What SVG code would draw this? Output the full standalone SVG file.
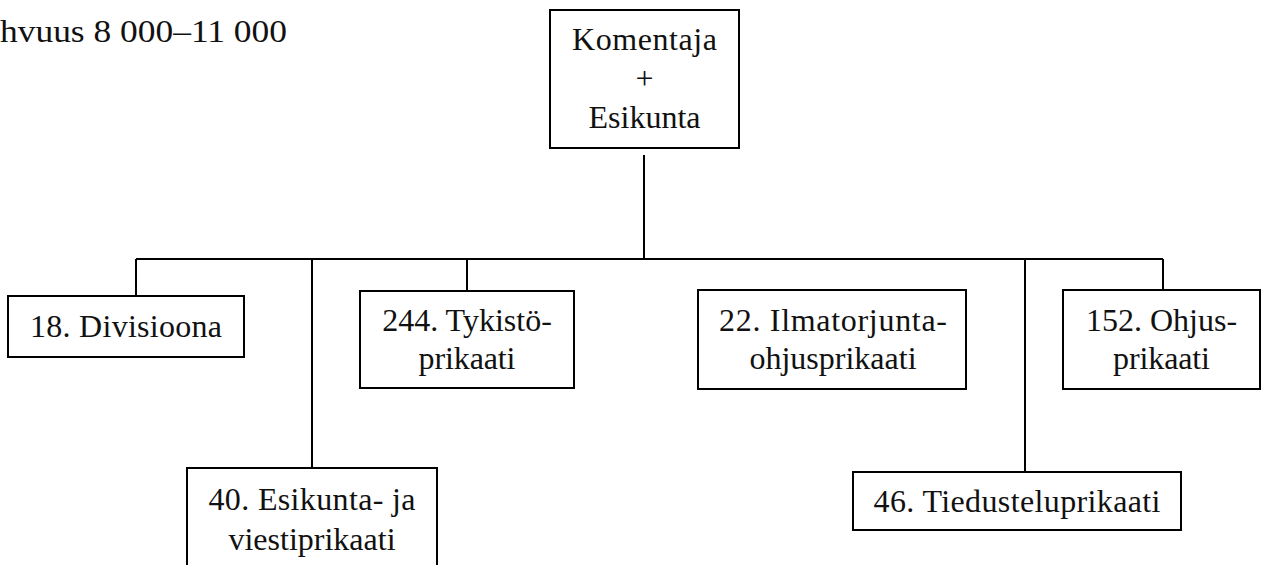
<svg xmlns="http://www.w3.org/2000/svg" width="1262" height="565" viewBox="0 0 1262 565">
<style>
.box{fill:#fff;stroke:#000;stroke-width:2}
text{font-family:'Liberation Serif','Times New Roman',Times,serif;font-size:32px;fill:#111}
.t{text-anchor:middle}
.c{stroke:#000;stroke-width:2;fill:none}
</style>
<rect width="1262" height="565" fill="#fff"/>
<text x="0" y="42" textLength="287" lengthAdjust="spacingAndGlyphs">hvuus 8 000–11 000</text>
<g id="connectors">
<line class="c" x1="644" y1="155" x2="644" y2="259"/>
<line class="c" x1="136" y1="259" x2="1163" y2="259"/>
<line class="c" x1="136" y1="259" x2="136" y2="296"/>
<line class="c" x1="312" y1="259" x2="312" y2="468"/>
<line class="c" x1="467" y1="259" x2="467" y2="291"/>
<line class="c" x1="1025" y1="259" x2="1025" y2="472"/>
<line class="c" x1="1163" y1="259" x2="1163" y2="290"/>
</g>
<g id="hq">
<rect class="box" x="550" y="10" width="189" height="138"/>
<text class="t" x="644.5" y="50" textLength="145">Komentaja</text>
<text class="t" x="644.5" y="89">+</text>
<text class="t" x="644.5" y="128">Esikunta</text>
</g>
<g id="div18">
<rect class="box" x="8" y="296" width="236" height="61"/>
<text class="t" x="126" y="337" textLength="192">18. Divisioona</text>
</g>
<g id="tyk244">
<rect class="box" x="360" y="291" width="214" height="97"/>
<text class="t" x="467" y="331">244. Tykistö-</text>
<text class="t" x="467" y="369" textLength="97">prikaati</text>
</g>
<g id="it22">
<rect class="box" x="698" y="290" width="268" height="99"/>
<text class="t" x="833" y="331" textLength="228">22. Ilmatorjunta-</text>
<text class="t" x="833" y="369">ohjusprikaati</text>
</g>
<g id="oh152">
<rect class="box" x="1063" y="290" width="197" height="99"/>
<text class="t" x="1161.5" y="331">152. Ohjus-</text>
<text class="t" x="1161.5" y="369" textLength="97">prikaati</text>
</g>
<g id="esv40">
<rect class="box" x="187" y="468" width="250" height="102"/>
<text class="t" x="312" y="510" textLength="207">40. Esikunta- ja</text>
<text class="t" x="312" y="550">viestiprikaati</text>
</g>
<g id="tied46">
<rect class="box" x="853" y="472" width="328" height="58"/>
<text class="t" x="1017" y="512" textLength="287">46. Tiedusteluprikaati</text>
</g>
</svg>
